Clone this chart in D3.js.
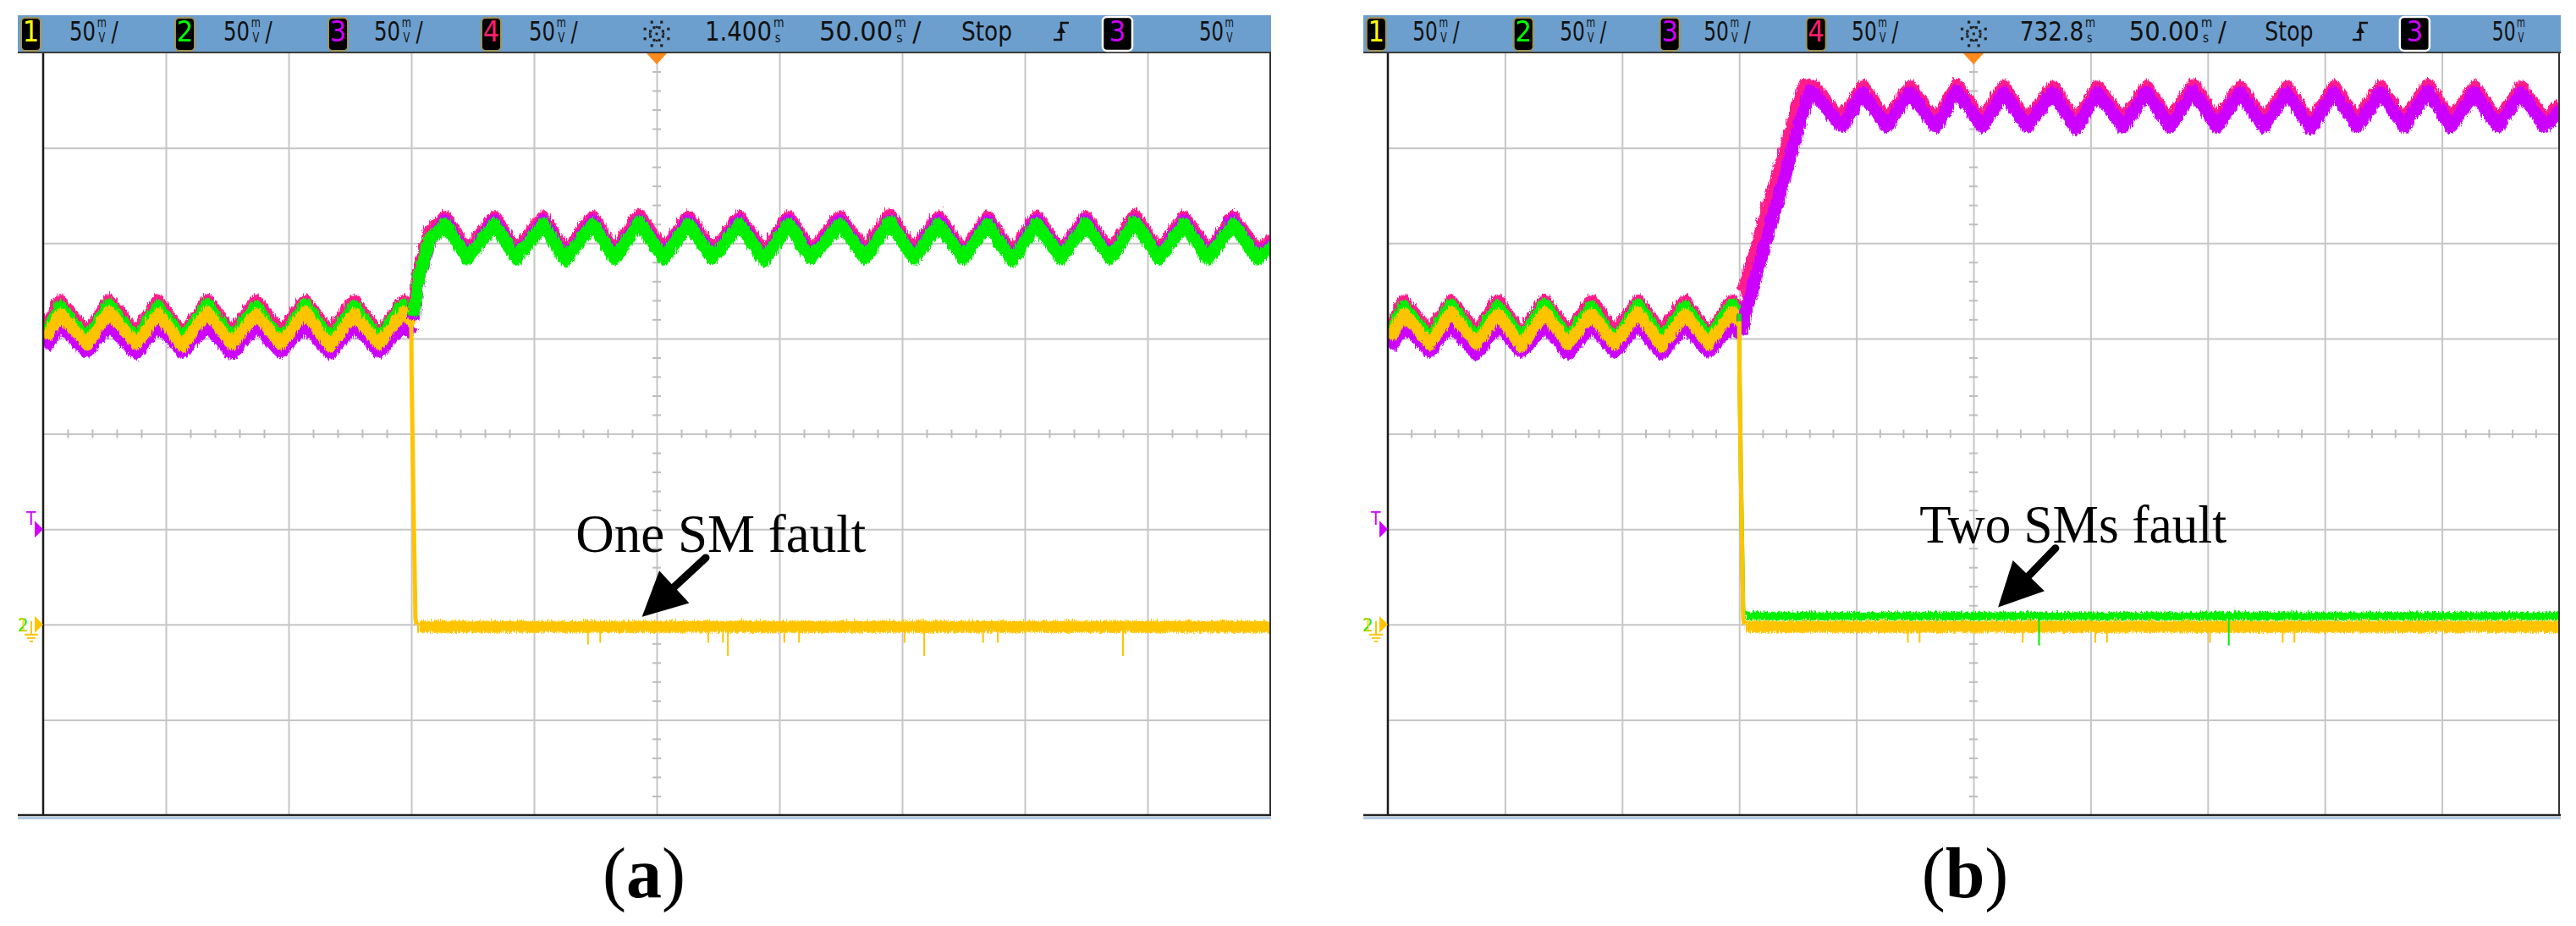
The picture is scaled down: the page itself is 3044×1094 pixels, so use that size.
<!DOCTYPE html>
<html><head><meta charset="utf-8">
<script src="https://cdn.jsdelivr.net/npm/d3@7"></script>
<style>body{margin:0;background:#fff}svg{display:block}</style>
</head><body>
<svg id="chart" width="3044" height="1094"></svg>
<script>
// ================= DATA =================
const channelIds = ["1", "2", "3", "4"];
const channelScales = ["50", "50", "50", "50"];
const timebaseDelay = ["1.400", "732.8"];
const timePerDiv = "50.00";
const runState = "Stop";
const triggerSource = "3";
const triggerLevel = "50";
const annotations = ["One SM fault", "Two SMs fault"];
const panelLetters = ["a", "b"];

// axes: 10 div x 50 ms, 8 div x 50 mV (ground of ch1/ch2 at 0 mV)
const timeTicks = [0, 50, 100, 150, 200, 250, 300, 350, 400, 450, 500];
const voltTicks = [-100, -50, 0, 50, 100, 150, 200, 250, 300];
const trigLevelMV = 50;

// ---- before the fault (both captures identical) ----
const preTimes   = [0, 6, 17, 26, 37, 46, 56, 66, 76, 86, 96, 106, 116, 126, 136, 146, 150];
const preYellow  = [151, 164, 148, 165, 148, 164, 147, 165, 148, 164, 148, 165, 147, 164, 148, 165, 159];
const preGreen   = [154, 168, 151, 169, 151, 168, 151, 169, 151, 168, 150, 169, 151, 168, 151, 169, 163];
const prePink    = [156, 171, 154, 171, 154, 171, 153, 171, 154, 171, 154, 171, 154, 171, 153, 171, 166];
const preMagenta = [146, 158, 144, 158, 143, 158, 144, 158, 143, 158, 144, 158, 143, 158, 144, 158, 153];

// ---- capture (a): one SM fault ----
const aDropTimes  = [150, 150.1, 150.7, 151.7, 152.2];
const aDropYellow = [159, 135, 80, 3, 0];
const aFlatTimes  = [152, 500];
const aFlatYellow = [0, 0];
const aPostTimes  = [150, 152.5, 156.5, 163, 172, 183, 192, 203, 212, 223, 232, 242, 252, 262, 272, 283, 293, 303, 312, 324, 334, 344, 354, 364, 374, 384, 394, 404, 414, 424, 434, 444, 454, 464, 474, 484, 494, 500];
const aPostGreen   = [163, 184, 203, 211, 193, 211, 193, 211, 192, 211, 193, 212, 193, 211, 193, 211, 192, 211, 193, 211, 193, 212, 193, 211, 193, 211, 192, 211, 193, 211, 193, 212, 193, 211, 193, 211, 193, 199];
const aPostPink    = [166, 188, 207, 215, 197, 215, 197, 215, 196, 215, 197, 216, 197, 215, 197, 215, 196, 215, 197, 215, 197, 216, 197, 215, 197, 215, 196, 215, 197, 215, 197, 216, 197, 215, 197, 215, 197, 203];
const aPostMagenta = [161, 183, 202, 213, 194, 213, 194, 213, 193, 213, 194, 213, 194, 213, 194, 213, 193, 213, 194, 213, 194, 213, 194, 213, 194, 213, 193, 213, 194, 213, 194, 213, 194, 213, 194, 213, 194, 201];
const aSpikeTimes  = [222, 227, 271, 277, 279, 302, 308, 351, 359, 383, 389, 440];
const aSpikeDepth  = [-7, -6, -6, -6, -13, -6, -6, -6, -13, -6, -6, -13];

// ---- capture (b): two SMs fault ----
const bDropTimes  = [150, 150.1, 150.7, 151.7, 152.2];
const bDropYellow = [159, 135, 80, 3, 0];
const bDropGreen  = [163, 135, 80, 8, 5];
const bFlatTimes  = [152, 500];
const bFlatYellow = [0, 0];
const bFlatGreen  = [5.5, 5.5];
const bPostTimesMagenta = [150, 151, 179, 181, 193, 202, 212, 222, 233, 242, 253, 262, 272, 283, 293, 302, 313, 323, 333, 343, 353, 363, 373, 383, 393, 403, 413, 423, 433, 443, 453, 463, 473, 483, 493, 500];
const bPostMagenta      = [153, 161, 281, 280, 262, 280, 262, 280, 262, 281, 262, 280, 262, 280, 261, 280, 262, 280, 262, 281, 262, 280, 262, 280, 261, 280, 262, 280, 262, 281, 262, 280, 262, 280, 262, 271];
const bPostTimesPink    = [150, 151, 177, 181, 193, 202, 212, 222, 233, 242, 253, 262, 272, 283, 293, 302, 313, 323, 333, 343, 353, 363, 373, 383, 393, 403, 413, 423, 433, 443, 453, 463, 473, 483, 493, 500];
const bPostPink         = [176, 176, 284, 283, 265, 283, 265, 283, 265, 284, 265, 283, 265, 283, 264, 283, 265, 283, 265, 284, 265, 283, 265, 283, 264, 283, 265, 283, 265, 284, 265, 283, 265, 283, 265, 274];
const bSpikeTimesY = [222, 227, 271, 302, 307, 351, 382, 387];
const bSpikeDepthY = [-6, -6, -6, -6, -6, -6, -6, -6];
const bSpikeTimesG = [278, 359];
const bSpikeDepthG = [-13, -13];

// ================= STYLE / LAYOUT =================
const COL = {yellow: "#ffc400", green: "#00f000", magenta: "#cc00ff", pink: "#ff1a8c",
  d1: "#ffff00", d2: "#00ff00", d3: "#d000ff", d4: "#ff1f6b", bar: "#6c9fce", grid: "#c6c6c6"};
const digitColors = [COL.d1, COL.d2, COL.d3, COL.d4];
const barT = 18, barB = 62, plotT = 62, plotB = 963;
const refBarL = 21, refBarW = 1481;
const HFONT = "'DejaVu Sans Condensed','DejaVu Sans',sans-serif";
const SERIF = "'Liberation Serif','Times New Roman',serif";

const svg = d3.select("#chart");
const defs = svg.append("defs");
// oscilloscope-like noisy edges (pure styling)
const flt = defs.append("filter").attr("id", "noisy").attr("filterUnits", "userSpaceOnUse")
  .attr("x", 0).attr("y", 0).attr("width", 3044).attr("height", 1094);
flt.append("feTurbulence").attr("type", "turbulence").attr("baseFrequency", "0.45 0.06").attr("numOctaves", 1).attr("seed", 3).attr("result", "n");
flt.append("feDisplacementMap").attr("in", "SourceGraphic").attr("in2", "n").attr("scale", 7).attr("xChannelSelector", "G").attr("yChannelSelector", "R");

const panels = [
  {idx: 0, barL: 21, barR: 1502, plotL: 51, plotR: 1501, labelX: 761,
   annText: {t: 217, v: 38, len: 343}, annTip: [244, 4], annTail: [270, 35],
   traces: [
     {t: preTimes, v: prePink, c: COL.pink, w: 15},
     {t: preTimes, v: preMagenta, c: COL.magenta, w: 15},
     {t: preTimes, v: preGreen, c: COL.green, w: 14},
     {t: preTimes, v: preYellow, c: COL.yellow, w: 14},
     {t: aPostTimes, v: aPostPink, c: COL.pink, w: 15},
     {t: aPostTimes, v: aPostMagenta, c: COL.magenta, w: 15},
     {t: aPostTimes, v: aPostGreen, c: COL.green, w: 15},
     {t: aDropTimes, v: aDropYellow, c: COL.yellow, w: 5, clean: true},
     {t: aFlatTimes, v: aFlatYellow, c: COL.yellow, w: 14}
   ],
   spikes: [{t: aSpikeTimes, d: aSpikeDepth, base: 0, c: COL.yellow}]},
  {idx: 1, barL: 1611, barR: 3026, plotL: 1640, plotR: 3024, labelX: 2322,
   annText: {t: 227, v: 43, len: 363}, annTip: [260.5, 9], annTail: [285, 40],
   traces: [
     {t: preTimes, v: prePink, c: COL.pink, w: 15},
     {t: preTimes, v: preMagenta, c: COL.magenta, w: 15},
     {t: preTimes, v: preGreen, c: COL.green, w: 14},
     {t: preTimes, v: preYellow, c: COL.yellow, w: 14},
     {t: bPostTimesPink, v: bPostPink, c: COL.pink, w: 16},
     {t: bPostTimesMagenta, v: bPostMagenta, c: COL.magenta, w: 15},
     {t: bDropTimes, v: bDropGreen, c: COL.green, w: 5, clean: true},
     {t: bFlatTimes, v: bFlatGreen, c: COL.green, w: 9},
     {t: bDropTimes, v: bDropYellow, c: COL.yellow, w: 5, clean: true},
     {t: bFlatTimes, v: bFlatYellow, c: COL.yellow, w: 14}
   ],
   spikes: [{t: bSpikeTimesY, d: bSpikeDepthY, base: 0, c: COL.yellow},
            {t: bSpikeTimesG, d: bSpikeDepthG, base: 5.5, c: COL.green}]}
];

// one text element (horizontally condensed): main value + stacked unit (+ optional slash)
function hvalue(g, x, main, w, top, bottom, slash, s) {
  const t = g.append("text").attr("font-family", HFONT).attr("fill", "#111");
  const m = t.append("tspan").attr("x", 0).attr("y", 48).attr("font-size", 32).text(main);
  const nw = m.node().getComputedTextLength();
  const k = (w * s) / nw;
  t.attr("transform", `translate(${x},0) scale(${k},1)`);
  let ux = nw + 2;
  if (top) {
    t.append("tspan").attr("x", ux).attr("y", 32).attr("font-size", 15).text(top);
    t.append("tspan").attr("x", ux + 2).attr("y", 50).attr("font-size", 15).text(bottom);
    ux += 18;
  }
  if (slash) t.append("tspan").attr("x", ux + 2).attr("y", 48).attr("font-size", 32).text("/");
}

function drawPanel(p) {
  const g = svg.append("g");
  const x = d3.scaleLinear().domain([timeTicks[0], timeTicks[timeTicks.length - 1]]).range([p.plotL, p.plotR]);
  const y = d3.scaleLinear().domain([voltTicks[0], voltTicks[voltTicks.length - 1]]).range([plotB, plotT]);
  const s = (p.barR - p.barL) / refBarW;
  const hx = v => p.barL + (v - refBarL) * s;

  // ---- grid via axes ----
  const gx = g.append("g").attr("transform", `translate(0,${plotB})`)
    .call(d3.axisBottom(x).tickValues(timeTicks.slice(1, -1)).tickSize(-(plotB - plotT)).tickFormat(""));
  const gy = g.append("g").attr("transform", `translate(${p.plotL},0)`)
    .call(d3.axisLeft(y).tickValues(voltTicks.slice(1, -1)).tickSize(-(p.plotR - p.plotL)).tickFormat(""));
  [gx, gy].forEach(a => { a.select(".domain").remove(); a.selectAll("line").attr("stroke", COL.grid).attr("stroke-width", 2); });
  const midT = 250, midV = 100;
  const minorT = d3.range(0, 501, 10).filter(v => v % 50 !== 0);
  const minorV = d3.range(-100, 301, 10).filter(v => v % 50 !== 0);
  const mx = g.append("g").attr("transform", `translate(0,${y(midV) - 5})`)
    .call(d3.axisBottom(x).tickValues(minorT).tickSize(10).tickFormat(""));
  const my = g.append("g").attr("transform", `translate(${x(midT) - 5},0)`)
    .call(d3.axisRight(y).tickValues(minorV).tickSize(10).tickFormat(""));
  [mx, my].forEach(a => { a.select(".domain").remove(); a.selectAll("line").attr("stroke", "#bdbdbd").attr("stroke-width", 2); });

  // ---- traces ----
  const cid = "clip" + p.idx;
  defs.append("clipPath").attr("id", cid).append("rect")
    .attr("x", p.plotL).attr("y", plotT).attr("width", p.plotR - p.plotL).attr("height", plotB - plotT);
  const tg = g.append("g").attr("clip-path", `url(#${cid})`);
  const line = d3.line().x(d => x(d[0])).y(d => y(d[1]));
  p.traces.forEach(tr => {
    tg.append("path").datum(tr.t.map((t, i) => [t, tr.v[i]])).attr("d", line)
      .attr("fill", "none").attr("stroke", tr.c).attr("stroke-width", tr.w)
      .attr("stroke-linejoin", "round").attr("stroke-linecap", "butt")
      .attr("filter", tr.clean ? null : "url(#noisy)");
  });
  p.spikes.forEach(sp => {
    tg.selectAll(null).data(sp.t.map((t, i) => [t, sp.d[i]])).join("line")
      .attr("x1", d => x(d[0])).attr("x2", d => x(d[0]))
      .attr("y1", y(sp.base)).attr("y2", d => y(sp.base + d[1]) + 8)
      .attr("stroke", sp.c).attr("stroke-width", 2);
  });

  // ---- frame ----
  g.append("line").attr("x1", p.plotL).attr("x2", p.plotL).attr("y1", plotT).attr("y2", plotB).attr("stroke", "#1a1a1a").attr("stroke-width", 2.5);
  g.append("line").attr("x1", p.plotR).attr("x2", p.plotR).attr("y1", plotT).attr("y2", plotB).attr("stroke", "#333").attr("stroke-width", 2);
  g.append("line").attr("x1", p.barL).attr("x2", p.barR).attr("y1", plotB).attr("y2", plotB).attr("stroke", "#222").attr("stroke-width", 2.5);
  g.append("line").attr("x1", p.barL).attr("x2", p.barR).attr("y1", plotB + 3.5).attr("y2", plotB + 3.5).attr("stroke", "#b3cbe3").attr("stroke-width", 3);

  // ---- header bar ----
  const hb = g.append("g");
  hb.append("rect").attr("x", p.barL).attr("y", barT).attr("width", p.barR - p.barL).attr("height", barB - barT).attr("fill", COL.bar);
  hb.append("line").attr("x1", p.barL).attr("x2", p.barR).attr("y1", barB).attr("y2", barB).attr("stroke", "#3a3a3a").attr("stroke-width", 2);
  const boxX = [25, 207, 388, 569];
  const scaleX = [82, 264, 442, 625];
  channelIds.forEach((id, i) => {
    hb.append("rect").attr("x", hx(boxX[i])).attr("y", 21).attr("width", 23).attr("height", 39).attr("rx", 5)
      .attr("fill", "#000").attr("stroke", "#a09456").attr("stroke-width", 2);
    hb.append("text").attr("x", hx(boxX[i]) + 11.5).attr("y", 49).attr("text-anchor", "middle")
      .attr("font-size", 34).attr("font-family", HFONT).attr("fill", digitColors[i]).text(id);
    hvalue(hb, hx(scaleX[i]), channelScales[i], 31, "m", "V", true, s);
  });
  // sun (acquisition) icon
  const sx = hx(776), sy = 40;
  const sun = hb.append("g").attr("fill", "#222");
  d3.range(8).forEach(k => {
    const a = k * Math.PI / 4 + Math.PI / 8;
    [8, 15].forEach(r => sun.append("rect").attr("x", sx + r * Math.cos(a) - 1.6).attr("y", sy + r * Math.sin(a) - 1.6).attr("width", 3.2).attr("height", 3.2));
  });
  [[0, -8], [0, 8], [-8, 0], [8, 0]].forEach(o => sun.append("rect").attr("x", sx + o[0] - 1.2).attr("y", sy + o[1] - 1.2).attr("width", 2.4).attr("height", 2.4));
  sun.append("rect").attr("x", sx - 1.5).attr("y", sy - 1.5).attr("width", 3).attr("height", 3);
  // delay, time/div, state
  hvalue(hb, hx(833), timebaseDelay[p.idx], 79, "m", "s", false, s);
  hvalue(hb, hx(968), timePerDiv, 87, "m", "s", true, s);
  hvalue(hb, hx(1136), runState, 60, null, null, false, s);
  // trigger edge symbol
  const ex = hx(1254);
  hb.append("path").attr("d", `M${ex - 9},47 H${ex} V27 H${ex + 9}`).attr("fill", "none").attr("stroke", "#111").attr("stroke-width", 2.5);
  hb.append("path").attr("d", `M${ex - 5},39 L${ex},31 L${ex + 5},39 Z`).attr("fill", "#111");
  // trigger source box
  hb.append("rect").attr("x", hx(1303)).attr("y", 20).attr("width", 35).attr("height", 40).attr("rx", 5)
    .attr("fill", "#000").attr("stroke", "#fff").attr("stroke-width", 2.5);
  hb.append("text").attr("x", hx(1303) + 17.5).attr("y", 49).attr("text-anchor", "middle")
    .attr("font-size", 34).attr("font-family", HFONT).attr("fill", COL.d3).text(triggerSource);
  hvalue(hb, hx(1417), triggerLevel, 29, "m", "V", false, s);

  // trigger position marker
  const cx = x(midT);
  g.append("path").attr("d", `M${cx - 12},${plotT + 1} L${cx + 12},${plotT + 1} L${cx},${plotT + 14} Z`).attr("fill", "#ff8a1c");

  // ---- left margin markers ----
  const L = p.plotL;
  g.append("text").attr("x", L - 20).attr("y", y(trigLevelMV) - 5).attr("font-size", 21).attr("font-family", HFONT).attr("fill", COL.d3).text("T");
  g.append("path").attr("d", `M${L - 10},${y(trigLevelMV) - 10} L${L},${y(trigLevelMV)} L${L - 10},${y(trigLevelMV) + 10} Z`).attr("fill", COL.d3);
  const gy0 = y(0);
  const gt = g.append("text").attr("font-size", 22).attr("font-family", HFONT);
  gt.append("tspan").attr("x", L - 30).attr("y", gy0 + 8).attr("fill", COL.green).text("2");
  gt.append("tspan").attr("x", L - 30).attr("y", gy0 + 8).attr("fill", COL.yellow).attr("fill-opacity", 0.8).text("1");
  g.append("path").attr("d", `M${L - 10},${gy0 - 10} L${L},${gy0} L${L - 10},${gy0 + 10} Z`).attr("fill", COL.yellow);
  const gs = g.append("g").attr("stroke", COL.yellow).attr("stroke-width", 2);
  gs.append("line").attr("x1", L - 14).attr("x2", L - 14).attr("y1", gy0 - 4).attr("y2", gy0 + 12);
  gs.append("line").attr("x1", L - 22).attr("x2", L - 6).attr("y1", gy0 + 12).attr("y2", gy0 + 12);
  gs.append("line").attr("x1", L - 19).attr("x2", L - 9).attr("y1", gy0 + 16).attr("y2", gy0 + 16);
  gs.append("line").attr("x1", L - 16).attr("x2", L - 12).attr("y1", gy0 + 20).attr("y2", gy0 + 20);

  // ---- annotation ----
  g.append("text").attr("x", x(p.annText.t)).attr("y", y(p.annText.v)).attr("font-family", SERIF)
    .attr("font-size", 64).attr("textLength", p.annText.len).attr("lengthAdjust", "spacingAndGlyphs")
    .attr("fill", "#000").text(annotations[p.idx]);
  const tip = [x(p.annTip[0]), y(p.annTip[1])], tail = [x(p.annTail[0]), y(p.annTail[1])];
  const dx = tip[0] - tail[0], dy = tip[1] - tail[1], len = Math.hypot(dx, dy), ux = dx / len, uy = dy / len;
  const hl = 52, hw = 26;
  const base = [tip[0] - ux * hl, tip[1] - uy * hl];
  g.append("line").attr("x1", tail[0]).attr("y1", tail[1]).attr("x2", base[0] + ux * 4).attr("y2", base[1] + uy * 4)
    .attr("stroke", "#000").attr("stroke-width", 9).attr("stroke-linecap", "round");
  g.append("path").attr("d", `M${tip[0]},${tip[1]} L${base[0] - uy * hw},${base[1] + ux * hw} L${base[0] + uy * hw},${base[1] - ux * hw} Z`).attr("fill", "#000");

  // ---- panel label ----
  const lab = g.append("text").attr("x", p.labelX).attr("y", 1060).attr("text-anchor", "middle")
    .attr("font-family", SERIF).attr("font-size", 84).attr("fill", "#000");
  lab.append("tspan").text("(");
  lab.append("tspan").attr("font-weight", "bold").text(panelLetters[p.idx]);
  lab.append("tspan").text(")");
}

panels.forEach(drawPanel);
</script>
</body></html>
